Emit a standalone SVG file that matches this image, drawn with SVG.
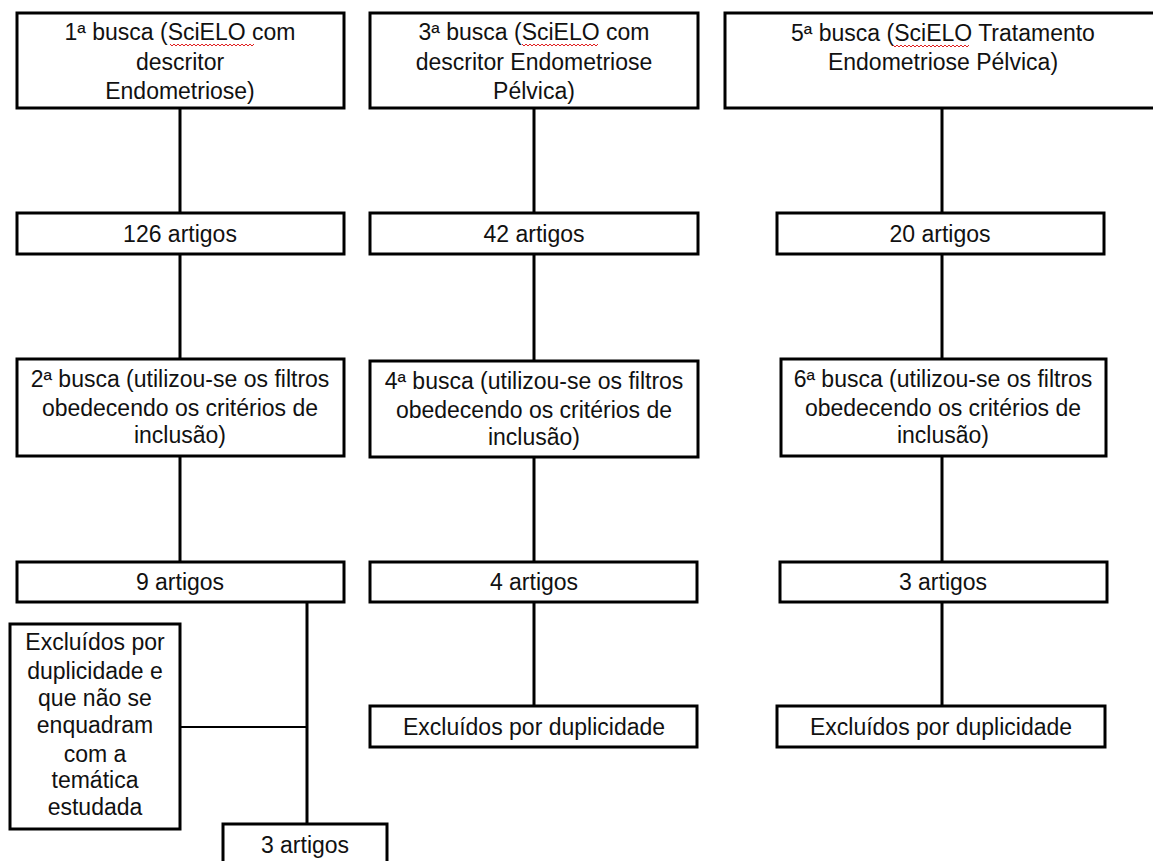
<svg xmlns="http://www.w3.org/2000/svg" width="1153" height="861" viewBox="0 0 1153 861">
<style>
.box{fill:#fff;stroke:#000;stroke-width:3}
.ln{stroke:#000;stroke-width:3;fill:none}
.thin{stroke:#000;stroke-width:2;fill:none}
text{font-family:"Liberation Sans",Arial,sans-serif;font-size:23px;fill:#111;text-anchor:middle}
.sq{stroke:#e02020;stroke-width:1;fill:none}
</style>
<rect width="1153" height="861" fill="#fff"/>
<g id="connectors">
<path class="ln" d="M180 108V213M180 254V359M180 456V562M307 602V824"/>
<path class="thin" d="M180 727H307"/>
<path class="ln" d="M534 108V213M534 254V361M534 457V562M534 602V706"/>
<path class="ln" d="M942 108V213M942 254V359M942 456V562M942 602V706"/>
</g>
<g id="n1">
<rect class="box" x="17" y="13" width="327" height="95"/>
<text x="180" y="40">1ª busca (SciELO com</text>
<text x="180" y="70">descritor</text>
<text x="180" y="99">Endometriose)</text>
<path class="sq" d="M170 44l2 2 2-2 2 2 2-2 2 2 2-2 2 2 2-2 2 2 2-2 2 2 2-2 2 2 2-2 2 2 2-2 2 2 2-2 2 2 2-2 2 2 2-2 2 2 2-2 2 2 2-2 2 2 2-2 2 2 2-2 2 2 2-2 2 2 2-2 2 2 2-2 2 2 2-2 2 2 2-2 2 2 2-2"/>
</g>
<g id="n3">
<rect class="box" x="370" y="13" width="328" height="95"/>
<text x="534" y="40">3ª busca (SciELO com</text>
<text x="534" y="70">descritor Endometriose</text>
<text x="534" y="99">Pélvica)</text>
<path class="sq" d="M522 44l2 2 2-2 2 2 2-2 2 2 2-2 2 2 2-2 2 2 2-2 2 2 2-2 2 2 2-2 2 2 2-2 2 2 2-2 2 2 2-2 2 2 2-2 2 2 2-2 2 2 2-2 2 2 2-2 2 2 2-2 2 2 2-2 2 2 2-2 2 2 2-2 2 2 2-2"/>
</g>
<g id="n5">
<rect class="box" x="725" y="13" width="437" height="95"/>
<text x="943" y="41">5ª busca (SciELO Tratamento</text>
<text x="943" y="70">Endometriose Pélvica)</text>
<path class="sq" d="M893 45l2 2 2-2 2 2 2-2 2 2 2-2 2 2 2-2 2 2 2-2 2 2 2-2 2 2 2-2 2 2 2-2 2 2 2-2 2 2 2-2 2 2 2-2 2 2 2-2 2 2 2-2 2 2 2-2 2 2 2-2 2 2 2-2 2 2 2-2 2 2 2-2 2 2 2-2"/>
</g>
<g id="a126">
<rect class="box" x="17" y="213" width="327" height="41"/>
<text x="180" y="242">126 artigos</text>
</g>
<g id="a42">
<rect class="box" x="370" y="213" width="328" height="41"/>
<text x="534" y="242">42 artigos</text>
</g>
<g id="a20">
<rect class="box" x="777" y="213" width="327" height="41"/>
<text x="940" y="242">20 artigos</text>
</g>
<g id="n2">
<rect class="box" x="17" y="359" width="327" height="97"/>
<text x="180" y="387">2ª busca (utilizou-se os filtros</text>
<text x="180" y="416">obedecendo os critérios de</text>
<text x="180" y="443">inclusão)</text>
</g>
<g id="n4">
<rect class="box" x="370" y="361" width="328" height="96"/>
<text x="534" y="389">4ª busca (utilizou-se os filtros</text>
<text x="534" y="418">obedecendo os critérios de</text>
<text x="534" y="445">inclusão)</text>
</g>
<g id="n6">
<rect class="box" x="781" y="359" width="325" height="97"/>
<text x="943" y="387">6ª busca (utilizou-se os filtros</text>
<text x="943" y="416">obedecendo os critérios de</text>
<text x="943" y="443">inclusão)</text>
</g>
<g id="a9">
<rect class="box" x="17" y="562" width="327" height="40"/>
<text x="180" y="590">9 artigos</text>
</g>
<g id="a4">
<rect class="box" x="370" y="562" width="327" height="40"/>
<text x="534" y="590">4 artigos</text>
</g>
<g id="a3r">
<rect class="box" x="780" y="562" width="327" height="40"/>
<text x="943" y="590">3 artigos</text>
</g>
<g id="ex1">
<rect class="box" x="10" y="624" width="170" height="205"/>
<text x="95" y="650">Excluídos por</text>
<text x="95" y="679">duplicidade e</text>
<text x="95" y="706">que não se</text>
<text x="95" y="733">enquadram</text>
<text x="95" y="762">com a</text>
<text x="95" y="788">temática</text>
<text x="95" y="815">estudada</text>
</g>
<g id="ex2">
<rect class="box" x="370" y="706" width="327" height="41"/>
<text x="534" y="735">Excluídos por duplicidade</text>
</g>
<g id="ex3">
<rect class="box" x="777" y="706" width="328" height="41"/>
<text x="941" y="735">Excluídos por duplicidade</text>
</g>
<g id="a3l">
<rect class="box" x="223" y="824" width="164" height="50"/>
<text x="305" y="853">3 artigos</text>
</g>
</svg>
